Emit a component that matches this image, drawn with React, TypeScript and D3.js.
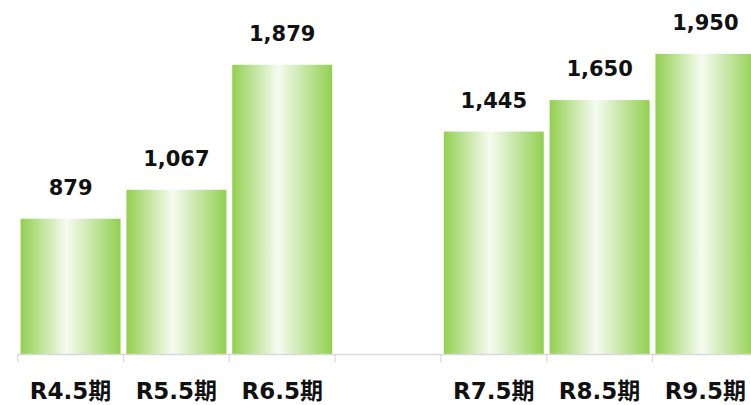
import React from "react";
import * as d3 from "d3";

const categories = ["R4.5期", "R5.5期", "R6.5期", "", "R7.5期", "R8.5期", "R9.5期"];
const values: (number | null)[] = [879, 1067, 1879, null, 1445, 1650, 1950];

const W = 751;
const H = 405;

export default function App() {
  const x = d3
    .scaleBand<string>()
    .domain(categories.map((c, i) => String(i)))
    .range([17.7, 758.3])
    .paddingInner(0.055)
    .paddingOuter(0.0275);
  const y = d3.scaleLinear().domain([0, 2300]).range([354, 0]);
  const step = x.step();
  const r0 = 17.7;
  const fmt = d3.format(",");
  const font = "'DejaVu Sans', Verdana, 'Noto Sans CJK JP', sans-serif";

  return (
    <svg
      width={W}
      height={H}
      style={{ position: "absolute", left: 0, top: 0, background: "#fff" }}
    >
      <defs>
        <linearGradient id="g" x1="0" x2="1" y1="0" y2="0">
          <stop offset="0" stopColor="#92d050" />
          <stop offset="0.46" stopColor="#f6fbf1" />
          <stop offset="1" stopColor="#92d050" />
        </linearGradient>
      </defs>
      {values.map((v, i) =>
        v == null ? null : (
          <rect
            key={"b" + i}
            x={x(String(i))}
            y={y(v)}
            width={x.bandwidth()}
            height={y(0) - y(v)}
            fill="url(#g)"
          />
        )
      )}
      <line x1={r0} x2={758.3} y1={354.5} y2={354.5} stroke="#d9d9d9" strokeWidth={1.5} />
      {d3.range(categories.length + 1).map((i) => (
        <line
          key={"t" + i}
          x1={r0 + i * step}
          x2={r0 + i * step}
          y1={354}
          y2={362}
          stroke="#d9d9d9"
          strokeWidth={1.2}
        />
      ))}
      {values.map((v, i) =>
        v == null ? null : (
          <text
            key={"v" + i}
            x={(x(String(i)) as number) + x.bandwidth() / 2}
            y={y(v) - 24}
            textAnchor="middle"
            fontFamily={font}
            fontWeight="bold"
            fontSize={21}
            fill="#111"
          >
            {fmt(v)}
          </text>
        )
      )}
      {categories.map((c, i) => (
        <text
          key={"c" + i}
          x={(x(String(i)) as number) + x.bandwidth() / 2}
          y={399}
          textAnchor="middle"
          fontFamily={font}
          fontWeight="bold"
          fontSize={23}
          fill="#111"
        >
          {c}
        </text>
      ))}
    </svg>
  );
}
